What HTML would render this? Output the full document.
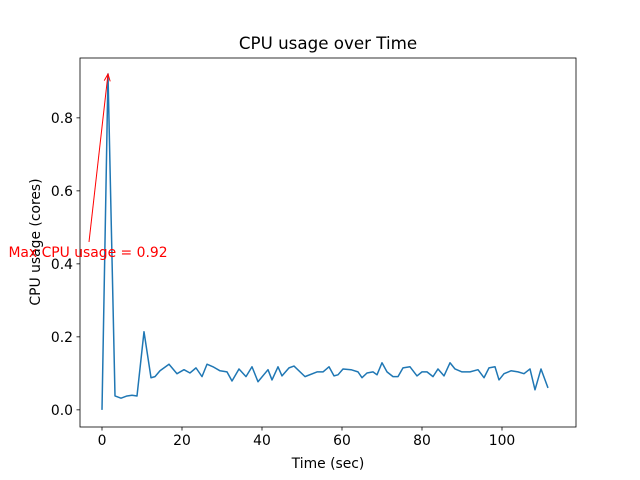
<!DOCTYPE html>
<html><head><meta charset="utf-8"><style>body{margin:0;background:#fff}svg{display:block;font-family:"DejaVu Sans","Liberation Sans",sans-serif}</style></head>
<body>
<svg id="chart" width="640" height="480" viewBox="0 0 640 480"></svg>
<script>
const times=[0,1.5,3.25,4.75,6.25,7.5,8.75,10.5,12.25,13.25,14.5,16.75,18.75,20.5,22,23.5,25,26.25,27.75,29.5,31.25,32.5,34.25,36,37.5,39,41.5,42.5,44,45,46.75,48,50.75,53.75,55.25,56.75,58,59,60.25,62.25,64,65,66.25,67.75,68.75,70,71.25,72.75,74,75.25,77,78.75,80,81.25,82.75,84,85.5,87,88.25,90,92,94,95.5,96.75,98.25,99.25,100.5,102.25,104,105.5,107,108.25,109.75,111.5,112.75];
const cpu=[0,0.92,0.038,0.032,0.038,0.040,0.038,0.214,0.088,0.091,0.107,0.125,0.099,0.110,0.101,0.115,0.091,0.125,0.118,0.107,0.104,0.079,0.112,0.091,0.118,0.077,0.110,0.082,0.118,0.093,0.115,0.120,0.091,0.104,0.104,0.118,0.093,0.096,0.112,0.110,0.104,0.088,0.101,0.104,0.096,0.129,0.104,0.091,0.091,0.115,0.118,0.093,0.104,0.104,0.091,0.112,0.093,0.129,0.112,0.104,0.104,0.110,0.088,0.115,0.118,0.082,0.099,0.107,0.104,0.099,0.112,0.055,0.112,0.060];
const xTicks=[0,20,40,60,80,100];
const yTicks=[0.0,0.2,0.4,0.6,0.8];
const maxLabel="Max CPU usage = 0.92";
const L=80,R=576,T=58,B=427,xmin=-5.5,xmax=118.5,ymin=-0.047,ymax=0.964;
const sx=v=>L+(v-xmin)/(xmax-xmin)*(R-L);
const sy=v=>B-(v-ymin)/(ymax-ymin)*(B-T);
const svg=document.getElementById('chart');const NS='http://www.w3.org/2000/svg';
function mk(tag,attrs,parent){const e=document.createElementNS(NS,tag);for(const k in attrs)e.setAttribute(k,attrs[k]);(parent||svg).appendChild(e);return e;}
let t=mk('text',{x:328,y:49,'text-anchor':'middle','font-size':16.7});t.textContent='CPU usage over Time';


const line=mk('polyline',{points:times.map((v,i)=>sx(v)+','+sy(cpu[i])).join(' '),fill:'none',stroke:'#1f77b4','stroke-width':1.5,'stroke-linejoin':'round'});


const frame=mk('rect',{x:L,y:T,width:R-L,height:B-T,fill:'none',stroke:'#000','stroke-width':0.8});


xTicks.forEach(v=>{const x=sx(v);mk('line',{x1:x,x2:x,y1:B,y2:B+3.5,stroke:'#000','stroke-width':0.8});const e=mk('text',{x:x,y:B+18,'text-anchor':'middle','font-size':13.9});e.textContent=String(v);

});
yTicks.forEach(v=>{const y=sy(v);mk('line',{x1:L-3.5,x2:L,y1:y,y2:y,stroke:'#000','stroke-width':0.8});const e=mk('text',{x:L-7,y:y+5,'text-anchor':'end','font-size':13.9});e.textContent=v.toFixed(1);

});
let xl=mk('text',{x:328,y:468,'text-anchor':'middle','font-size':13.9});xl.textContent='Time (sec)';


let yl=mk('text',{x:0,y:0,'text-anchor':'middle','font-size':13.9,transform:'translate(40,242) rotate(-90)'});yl.textContent='CPU usage (cores)';


const ax=sx(times[1]),ay=sy(cpu[1]),tx=sx(-3.25),ty=sy(0.46);
const arrow=mk('line',{x1:tx,y1:ty,x2:ax,y2:ay,stroke:'red','stroke-width':1});


const ang=Math.atan2(ay-ty,ax-tx);const hl=7,hw=3;
const p1=[ax-hl*Math.cos(ang)+hw*Math.sin(ang),ay-hl*Math.sin(ang)-hw*Math.cos(ang)],p2=[ax-hl*Math.cos(ang)-hw*Math.sin(ang),ay-hl*Math.sin(ang)+hw*Math.cos(ang)];
mk('polyline',{points:`${p1} ${ax},${ay} ${p2}`,fill:'none',stroke:'red','stroke-width':1});
let at=mk('text',{x:88,y:257,'text-anchor':'middle','font-size':13.9,fill:'red'});at.textContent=maxLabel;


</script>
</body></html>
